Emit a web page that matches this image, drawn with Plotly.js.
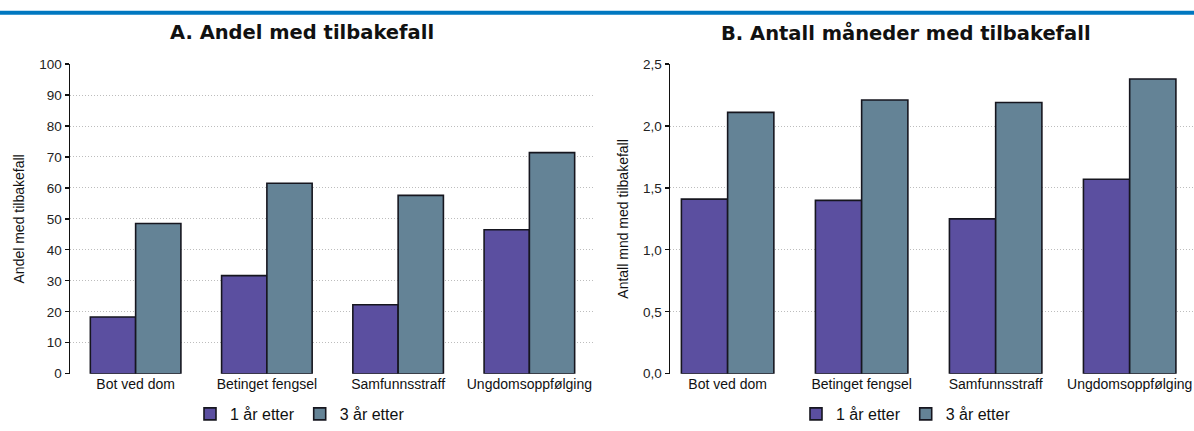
<!DOCTYPE html>
<html>
<head>
<meta charset="utf-8">
<script src="https://cdn.plot.ly/plotly-3.0.1.min.js"></script>
<style>html,body{margin:0;padding:0;background:#fff;}#chart{width:1194px;height:431px;}</style>
</head>
<body>
<div id="chart"></div>
<script>
const categories = ["Bot ved dom", "Betinget fengsel", "Samfunnsstraff", "Ungdomsoppfølging"];
const seriesNames = ["1 år etter", "3 år etter"];
const andel1 = [18.3, 31.7, 22.3, 46.5];
const andel3 = [48.5, 61.5, 57.6, 71.4];
const mnd1 = [1.41, 1.40, 1.25, 1.57];
const mnd3 = [2.11, 2.21, 2.19, 2.38];
const titleA = "A. Andel med tilbakefall";
const titleB = "B. Antall måneder med tilbakefall";
const yTitleA = "Andel med tilbakefall";
const yTitleB = "Antall mnd med tilbakefall";

const purple = "#5B4FA0";
const teal = "#648396";
const edge = "#16161f";

function bar(y, name, color, xa, ya, legend, show) {
  return {type: "bar", x: categories, y: y, name: name, xaxis: xa, yaxis: ya,
    legend: legend, showlegend: show,
    marker: {color: color, line: {color: edge, width: 1.6}}, hoverinfo: "x+y"};
}

const data = [
  bar(andel1, seriesNames[0], purple, "x", "y", "legend", true),
  bar(andel3, seriesNames[1], teal, "x", "y", "legend", true),
  bar(mnd1, seriesNames[0], purple, "x2", "y2", "legend2", true),
  bar(mnd3, seriesNames[1], teal, "x2", "y2", "legend2", true)
];

const W = 1194, H = 431;
const yDom = [(H - 379) / H, (H - 65) / H];
const tickFont = {family: "Liberation Sans, Arial, sans-serif", size: 13.5, color: "#222"};
const xFont = {family: "Liberation Sans, Arial, sans-serif", size: 14, color: "#111"};

function yaxis(range, dtick, fmt, anchor, title) {
  return {range: range, dtick: dtick, tickformat: fmt, anchor: anchor, domain: yDom,
    showline: true, linecolor: "#111", linewidth: 1.5, ticks: "outside", ticklen: 4,
    tickcolor: "#111", tickwidth: 1.2, showgrid: true, gridcolor: "#bdbdbd", griddash: "1px,2px",
    gridwidth: 1, zeroline: false, tickfont: tickFont, fixedrange: true,
    title: {text: title, font: {family: "Liberation Sans, Arial, sans-serif", size: 14, color: "#111"}, standoff: 11}};
}
function xaxis(domain, range, anchor) {
  return {domain: domain, range: range, anchor: anchor, showline: false, ticks: "",
    showgrid: false, zeroline: false, tickfont: xFont, fixedrange: true, type: "category"};
}

const layout = {
  width: W, height: H, margin: {l: 0, r: 0, t: 0, b: 0},
  paper_bgcolor: "#fff", plot_bgcolor: "rgba(0,0,0,0)",
  separators: ",.",
  barmode: "group", bargap: 0.31, bargroupgap: 0,
  font: {family: "Liberation Sans, Arial, sans-serif", color: "#111"},
  xaxis: xaxis([70 / W, 595 / W], [-0.5, 3.5], "y"),
  yaxis: yaxis([0, 100], 10, "d", "x", yTitleA),
  xaxis2: xaxis([670 / W, 1], [-0.43, 3.48], "y2"),
  yaxis2: yaxis([0, 2.5], 0.5, ".1f", "x2", yTitleB),
  legend: {orientation: "h", x: 300 / W, xanchor: "center", y: (H - 420) / H, yanchor: "middle",
    font: {family: "Liberation Sans, Arial, sans-serif", size: 16, color: "#111"}, itemwidth: 30, traceorder: "normal"},
  legend2: {orientation: "h", x: 906 / W, xanchor: "center", y: (H - 420) / H, yanchor: "middle",
    font: {family: "Liberation Sans, Arial, sans-serif", size: 16, color: "#111"}, itemwidth: 30, traceorder: "normal"},
  shapes: [
    {type: "line", xref: "paper", yref: "paper", x0: 0, x1: 1, y0: (H - 13) / H, y1: (H - 13) / H,
      line: {color: "#0077C0", width: 4}}
  ],
  annotations: [
    {text: "<b>" + titleA + "</b>", xref: "paper", yref: "paper", x: 302 / W, y: (H - 33) / H,
      xanchor: "center", yanchor: "middle", showarrow: false,
      font: {family: "DejaVu Sans, sans-serif", size: 19.5, color: "#111"}},
    {text: "<b>" + titleB + "</b>", xref: "paper", yref: "paper", x: 906 / W, y: (H - 33) / H,
      xanchor: "center", yanchor: "middle", showarrow: false,
      font: {family: "DejaVu Sans, sans-serif", size: 19.5, color: "#111"}}
  ]
};

Plotly.newPlot("chart", data, layout, {displayModeBar: false, staticPlot: true});
</script>
</body>
</html>
